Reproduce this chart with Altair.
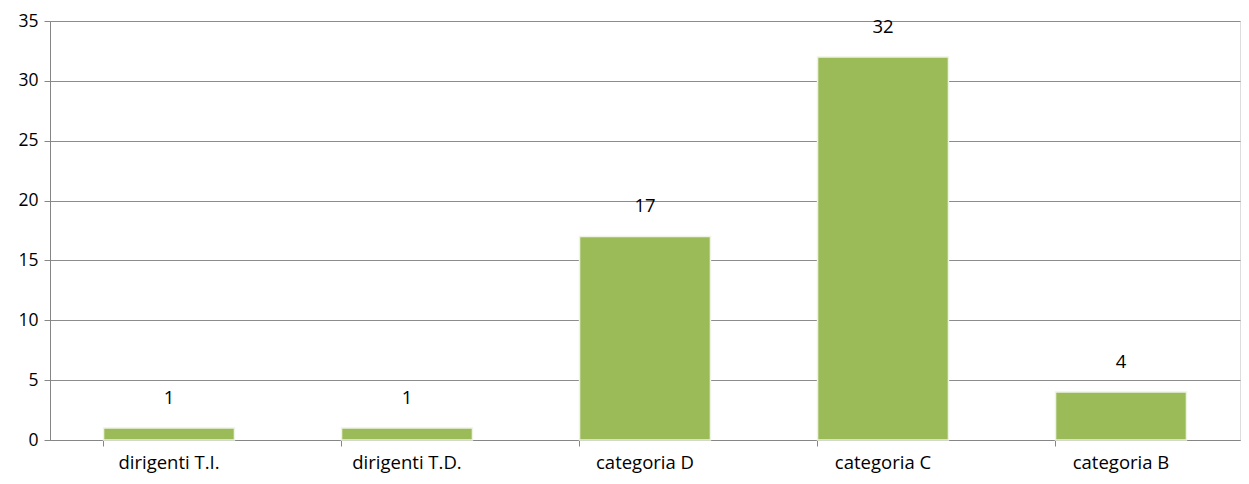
import altair as alt
import pandas as pd

categories = ["dirigenti T.I.", "dirigenti T.D.", "categoria D", "categoria C", "categoria B"]
values = [1, 1, 17, 32, 4]

df = pd.DataFrame({"cat": categories, "val": values})

FONT = "Open Sans"

x = alt.X("cat:N", sort=categories, title=None,
          scale=alt.Scale(paddingInner=0.45, paddingOuter=0.225),
          axis=alt.Axis(labelAngle=0, labelFontSize=18.5, labelColor="#000000", labelFont=FONT,
                        labelPadding=7, bandPosition=0, tickSize=6, tickColor="#868686",
                        domainColor="#868686", grid=False))
y = alt.Y("val:Q", title=None,
          scale=alt.Scale(domain=[0, 35], nice=False),
          axis=alt.Axis(values=[0, 5, 10, 15, 20, 25, 30, 35], labelFontSize=17.5, labelColor="#000000",
                        labelFont=FONT, labelPadding=6, tickSize=6, tickColor="#868686",
                        domainColor="#868686", gridColor="#8c8c8c", gridWidth=1))

bars = alt.Chart(df).mark_bar(color="#9BBB59", stroke="#eef3e2", strokeWidth=1.5).encode(x=x, y=y)
labels = alt.Chart(df).mark_text(fontSize=18.5, font=FONT, color="#000000", baseline="middle", dy=-30).encode(
    x=alt.X("cat:N", sort=categories), y="val:Q", text="val:Q")

chart = alt.layer(bars, labels).properties(
    width=1190, height=419,
    autosize=alt.AutoSizeParams(type="none"),
    padding={"left": 42, "top": 13, "right": 1, "bottom": 36},
).configure_view(stroke=None).configure(background="#ffffff")

chart.save("out.html", embed_options={"renderer": "svg", "actions": False})
